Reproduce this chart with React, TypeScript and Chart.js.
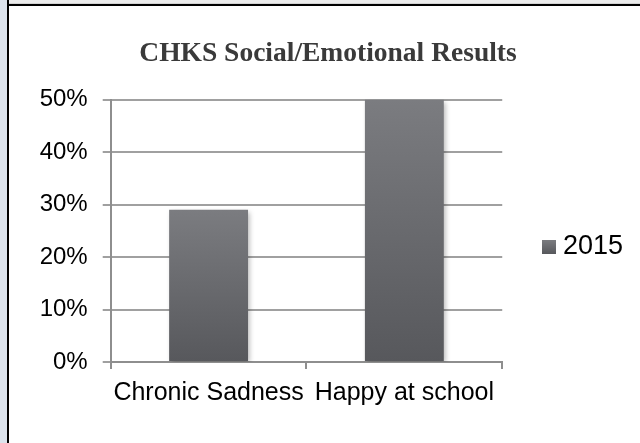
import React, { useEffect, useRef } from "react";
import { Chart, registerables } from "chart.js";

Chart.register(...registerables);

const chartTitle = "CHKS Social/Emotional Results";
const categories = ["Chronic Sadness", "Happy at school"];
const seriesLabel = "2015";
const values2015 = [29, 50];
const yTickValues = [0, 10, 20, 30, 40, 50];

const BAR_TOP = "#7b7c80";
const BAR_BOTTOM = "#57585c";

function makeLegendSwatch(): HTMLCanvasElement {
  const c = document.createElement("canvas");
  c.width = 14;
  c.height = 14;
  const g = c.getContext("2d")!;
  const grad = g.createLinearGradient(0, 0, 0, 14);
  grad.addColorStop(0, BAR_TOP);
  grad.addColorStop(1, BAR_BOTTOM);
  g.fillStyle = grad;
  g.fillRect(0, 0, 14, 14);
  return c;
}

const shadowPlugin = {
  id: "barShadow",
  beforeDatasetsDraw(chart: any) {
    const ctx = chart.ctx;
    ctx.save();
    ctx.shadowColor = "rgba(0,0,0,0.28)";
    ctx.shadowBlur = 5;
    ctx.shadowOffsetX = 2;
    ctx.shadowOffsetY = 2;
  },
  afterDatasetsDraw(chart: any) {
    chart.ctx.restore();
  },
};

export default function App() {
  const ref = useRef<HTMLCanvasElement>(null);

  useEffect(() => {
    if (!ref.current) return;
    const swatch = makeLegendSwatch();
    const chart = new Chart(ref.current, {
      type: "bar",
      data: {
        labels: categories,
        datasets: [
          {
            label: seriesLabel,
            data: values2015,
            barPercentage: 0.403,
            categoryPercentage: 1,
            borderWidth: 0,
            backgroundColor: (ctx: any) => {
              const chart = ctx.chart;
              if (ctx.type !== "data" || !chart.chartArea || !chart.scales.y) return "#6a6b6f";
              const ys = chart.scales.y;
              const top = ys.getPixelForValue(ctx.parsed.y);
              const base = ys.getPixelForValue(0);
              if (!isFinite(top) || !isFinite(base) || top === base) return "#6a6b6f";
              const g = chart.ctx.createLinearGradient(0, top, 0, base);
              g.addColorStop(0, BAR_TOP);
              g.addColorStop(1, BAR_BOTTOM);
              return g;
            },
          },
        ],
      },
      options: {
        responsive: false,
        animation: false,
        devicePixelRatio: 1,
        layout: { padding: { left: 23, right: 7, top: 10, bottom: 0 } },
        plugins: {
          title: {
            display: true,
            text: chartTitle,
            color: "#3a3a3a",
            font: { family: "'Liberation Serif', serif", weight: "bold", size: 27.5 },
            padding: { top: 27.3, bottom: 29.3 },
          },
          legend: {
            position: "right",
            labels: {
              font: { family: "'Liberation Sans', Arial, sans-serif", size: 27 },
              color: "#000",
              usePointStyle: true,
              pointStyle: swatch as any,
              pointStyleWidth: 1,
              padding: 46.2,
            },
          },
          tooltip: { enabled: false },
        },
        scales: {
          x: {
            afterFit: (s: any) => {
              s.height = 122;
            },
            ticks: {
              font: { family: "'Liberation Sans', Arial, sans-serif", size: 25 },
              color: "#000",
              padding: 9,
              maxRotation: 0,
              autoSkip: false,
            },
            grid: {
              drawOnChartArea: false,
              drawTicks: true,
              tickLength: 7,
              color: "#8e8e8e",
              lineWidth: 2,
              offset: true,
            },
            border: { color: "#8e8e8e", width: 2 },
          },
          y: {
            min: 0,
            max: 50,
            afterBuildTicks: (s: any) => {
              s.ticks = yTickValues.map((v) => ({ value: v }));
            },
            afterFit: (s: any) => {
              s.width = 87.7;
            },
            ticks: {
              font: { family: "'Liberation Sans', Arial, sans-serif", size: 24 },
              color: "#000",
              padding: 15,
              callback: (v: any) => v + "%",
            },
            grid: {
              color: "#a0a0a0",
              lineWidth: 2,
              tickLength: 8,
              drawTicks: true,
            },
            border: { color: "#8e8e8e", width: 2 },
          },
        },
      },
      plugins: [shadowPlugin],
    });
    return () => chart.destroy();
  }, []);

  return (
    <div
      style={{
        position: "fixed",
        left: 0,
        top: 0,
        width: 640,
        height: 443,
        overflow: "hidden",
        background: "#fff",
      }}
    >
      <canvas
        ref={ref}
        width={640}
        height={484}
        style={{ position: "absolute", left: 0, top: 0, width: 640, height: 484 }}
      />
      <div style={{ position: "absolute", left: 0, top: 0, width: 7, height: 443, background: "#dce3ec" }} />
      <div style={{ position: "absolute", left: 9, top: 0, right: 0, height: 3, background: "#ececec" }} />
      <div style={{ position: "absolute", left: 9, top: 3, right: 0, height: 1, background: "#d2d2d2" }} />
      <div style={{ position: "absolute", left: 7, top: 4, right: 0, height: 2, background: "#000" }} />
      <div style={{ position: "absolute", left: 7, top: 0, width: 2, height: 443, background: "#000" }} />
    </div>
  );
}
